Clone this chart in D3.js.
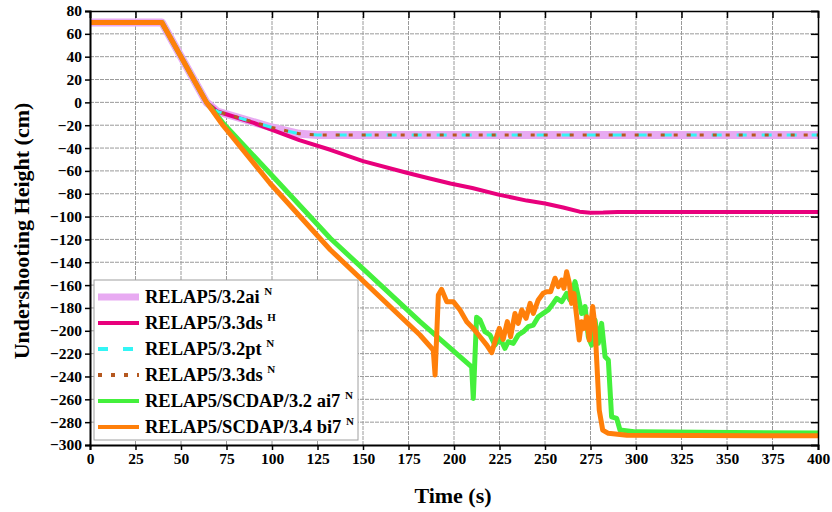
<!DOCTYPE html>
<html>
<head>
<meta charset="utf-8">
<script src="https://cdn.jsdelivr.net/npm/d3@7"></script>
<style>
  body { margin: 0; background: #fff; }
  text { font-family: "Liberation Serif", "Times New Roman", serif; font-weight: bold; }
</style>
</head>
<body>
<div id="chart"></div>
<script>
// Tick values
const xTicks = d3.range(0, 401, 25);
const yTicks = d3.range(-300, 81, 20);

// Series data: [time (s), height (cm)]
const ai32 = [[0,70],[39.5,70],[64,0],[70,-8],[85,-15],[100,-22],[115,-27.5],[125,-28.5],[400,-28.5]];
const ds33H = [[0,70],[39.5,70],[64,0],[70,-8],[90,-18],[115,-33],[132,-41.5],[150,-51.5],[174,-61.6],[185,-66],
  [198,-71],[210,-75],[225,-81],[240,-86],[250,-88.5],[260,-92],[269,-95.7],[275,-96.6],[282,-96.5],[290,-96],[400,-96]];
const pt32 = [[0,70],[39.5,70],[64,0],[70,-8],[85,-15],[100,-22],[115,-27.5],[125,-28.5],[400,-28.5]];
const ds33N = [[0,70],[39.5,70],[64,0],[70,-8],[85,-15],[100,-22],[115,-27.5],[125,-28.5],[400,-28.5]];
const scdap32 = [[0,70],[39.5,70],[64,0],[73,-18],[100,-64],[132,-119],[181.3,-192],[209.7,-231.5],[210.6,-259.2],
  [212.4,-188.2],[214.3,-190.6],[217,-200.8],[219.8,-203.7],[222.5,-212.5],[225.3,-206.6],[228,-215.4],[229.8,-209.6],
  [232.6,-211],[235.3,-203.7],[238.1,-200.8],[240.8,-196.4],[243.6,-195],[246.3,-187.7],[249,-184.8],[251.8,-181.8],
  [254.5,-176],[256.4,-171.6],[259.2,-174.5],[261.9,-167.2],[263.7,-173],[266.5,-157],[268.3,-170.2],[270.1,-184.8],
  [272,-178.8],[273.8,-205.2],[275.6,-212.5],[277.5,-190.6],[279.3,-211],[281.1,-193.5],[283,-222.7],[284.8,-225.6],
  [286.6,-275.3],[289.4,-276.7],[291.2,-286.9],[300,-288.5],[400,-289.5]];
const scdap34 = [[0,70],[39.5,70],[64,0],[73,-20],[99,-71],[132,-129],[181.3,-203.7],[188.6,-216.8],[189.6,-238.7],
  [191.4,-168.7],[193.2,-163.7],[196,-174.5],[199.6,-174.5],[203.3,-181.8],[207,-192],[210.6,-197.9],[214.3,-205.2],
  [218,-212.5],[220.7,-219.2],[222.5,-209.6],[224.9,-197.9],[227,-207.5],[229.3,-192],[231.1,-205.2],[233.5,-184.8],
  [235.3,-193.5],[237.2,-181.8],[239.6,-189.1],[241.8,-176],[243.6,-184.8],[246.3,-173],[249,-167.2],[250.9,-165.8],
  [253.1,-165.8],[255.5,-154],[257.3,-161.4],[259.2,-155.6],[260.4,-162.8],[261.9,-148.3],[263.4,-158.5],[264.6,-176],
  [265.9,-167.2],[267.4,-187.7],[268.8,-208.1],[270.1,-192],[271.4,-197.9],[272.9,-187.7],[274.3,-208.1],[276.2,-178.8],
  [277.5,-196.4],[278.4,-225.6],[279.8,-269.4],[281.7,-286.9],[284.8,-289.8],[295,-291.5],[400,-292]];

const series = [
  {name: "RELAP5/3.2ai", sup: "N", data: ai32, color: "#e8aaf2", width: 8, dash: null},
  {name: "RELAP5/3.3ds", sup: "H", data: ds33H, color: "#e8007c", width: 4, dash: null},
  {name: "RELAP5/3.2pt", sup: "N", data: pt32, color: "#33f5f5", width: 3, dash: "10,15"},
  {name: "RELAP5/3.3ds", sup: "N", data: ds33N, color: "#b5581f", width: 3, dash: "4,9"},
  {name: "RELAP5/SCDAP/3.2 ai7", sup: "N", data: scdap32, color: "#44f03c", width: 5, dash: null},
  {name: "RELAP5/SCDAP/3.4 bi7", sup: "N", data: scdap34, color: "#ff7f0a", width: 5, dash: null}
];

const W = 832, H = 512;
const margin = {top: 11, right: 14, bottom: 67, left: 90};
const width = W - margin.left - margin.right,
      height = H - margin.top - margin.bottom;

const svg = d3.select("#chart").append("svg")
    .attr("width", W)
    .attr("height", H);
const g = svg.append("g")
    .attr("transform", `translate(${margin.left},${margin.top})`);

const x = d3.scaleLinear().domain([0, 400]).range([0, width]);
const y = d3.scaleLinear().domain([-300, 80]).range([height, 0]);

// grid
g.append("g").selectAll("line")
  .data(xTicks.slice(1, -1))
  .enter().append("line")
    .attr("x1", d => x(d)).attr("x2", d => x(d))
    .attr("y1", 0).attr("y2", height)
    .attr("stroke", "#9a9a9a").attr("stroke-width", 1).attr("stroke-dasharray", "4,1");
g.append("g").selectAll("line")
  .data(yTicks.slice(1, -1))
  .enter().append("line")
    .attr("y1", d => y(d)).attr("y2", d => y(d))
    .attr("x1", 0).attr("x2", width)
    .attr("stroke", "#9a9a9a").attr("stroke-width", 1).attr("stroke-dasharray", "4,1");

// lines
const line = d3.line().x(d => x(d[0])).y(d => y(d[1]));
svg.append("clipPath").attr("id", "clip")
  .append("rect").attr("width", width).attr("height", height);
g.append("g").attr("clip-path", "url(#clip)").selectAll("path")
  .data(series)
  .enter().append("path")
    .attr("d", d => line(d.data))
    .attr("fill", "none")
    .attr("stroke", d => d.color)
    .attr("stroke-width", d => d.width)
    .attr("stroke-dasharray", d => d.dash)
    .attr("stroke-linejoin", "round");

// axes
const xAxis = g.append("g")
    .attr("transform", `translate(0,${height})`)
    .call(d3.axisBottom(x).tickValues(xTicks).tickSize(5).tickPadding(3));
const yAxis = g.append("g")
    .call(d3.axisLeft(y).tickValues(yTicks).tickSize(5).tickPadding(3));
g.append("g")
    .call(d3.axisTop(x).tickValues(xTicks).tickSize(-7).tickFormat(""));
g.append("g")
    .attr("transform", `translate(${width},0)`)
    .call(d3.axisRight(y).tickValues(yTicks).tickSize(-7).tickFormat(""));

g.selectAll(".domain").attr("stroke", "#000").attr("stroke-width", 1.5);
g.selectAll(".tick line").attr("stroke", "#000").attr("stroke-width", 1.5);
g.selectAll(".tick text")
    .attr("fill", "#000")
    .style("font-size", "15.5px")
    .style("font-family", "'Liberation Serif', serif")
    .style("font-weight", "bold");
xAxis.select(".domain").attr("stroke-width", 2);
yAxis.select(".domain").attr("stroke-width", 2);

// axis titles
svg.append("text")
    .attr("x", margin.left + width / 2 - 1)
    .attr("y", 503)
    .attr("text-anchor", "middle")
    .style("font-size", "22px")
    .text("Time (s)");
svg.append("text")
    .attr("transform", `translate(29,${margin.top + height / 2 + 3}) rotate(-90)`)
    .attr("text-anchor", "middle")
    .style("font-size", "22px")
    .text("Undershooting Height (cm)");

// legend
const leg = svg.append("g").attr("transform", "translate(94,280)");
leg.append("rect")
    .attr("width", 264).attr("height", 160)
    .attr("fill", "#fff")
    .attr("stroke", "#a0a0a0").attr("stroke-width", 1);
const item = leg.selectAll(".item")
  .data(series)
  .enter().append("g")
    .attr("class", "item")
    .attr("transform", (d, i) => `translate(0,${17 + i * 26})`);
item.append("line")
    .attr("x1", 4).attr("x2", 45)
    .attr("stroke", d => d.color)
    .attr("stroke-width", d => d.width === 8 ? 7 : 4)
    .attr("stroke-dasharray", d => d.dash);
const txt = item.append("text")
    .attr("x", 51).attr("y", 6)
    .style("font-size", "18.5px");
txt.append("tspan").text(d => d.name + " ");
txt.append("tspan")
    .attr("dy", -8)
    .style("font-size", "11px")
    .text(d => d.sup);
</script>
</body>
</html>
